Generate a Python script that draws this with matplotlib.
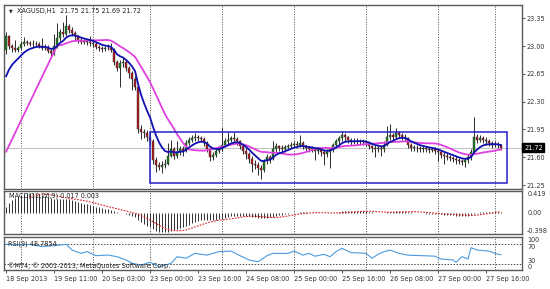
import numpy as np
import pandas as pd
import matplotlib
matplotlib.use("Agg")
import matplotlib.pyplot as plt
from matplotlib.patches import Rectangle

# XAGUSD H1, 18 Sep 2013 19:00 -> 27 Sep 2013 21:00 (166 bars)
closes = [
    23.12, 23.00, 22.97, 22.95, 22.97, 23.02, 23.05, 23.04, 23.03, 23.02, 23.03, 23.00,
    22.98, 22.99, 22.94, 22.91, 23.00, 23.10, 23.18, 23.15, 23.25, 23.20, 23.17, 23.12,
    23.08, 23.05, 23.06, 23.05, 23.04, 23.03, 22.99, 22.97, 22.96, 22.97, 22.98, 22.95,
    22.80, 22.72, 22.78, 22.80, 22.72, 22.66, 22.58, 22.48, 21.95, 21.92, 21.90, 21.86,
    21.80, 21.56, 21.50, 21.48, 21.50, 21.52, 21.62, 21.70, 21.62, 21.66, 21.70, 21.68,
    21.78, 21.82, 21.84, 21.85, 21.84, 21.83, 21.78, 21.70, 21.60, 21.63, 21.68, 21.70,
    21.76, 21.80, 21.82, 21.84, 21.83, 21.80, 21.74, 21.68, 21.64, 21.58, 21.52, 21.50,
    21.46, 21.44, 21.55, 21.60, 21.58, 21.70, 21.74, 21.72, 21.70, 21.73, 21.74, 21.76,
    21.77, 21.76, 21.78, 21.74, 21.72, 21.70, 21.71, 21.68, 21.70, 21.66, 21.64, 21.66,
    21.70, 21.75, 21.80, 21.84, 21.88, 21.85, 21.82, 21.80, 21.80, 21.81, 21.80, 21.80,
    21.78, 21.74, 21.72, 21.70, 21.72, 21.70, 21.76, 21.85, 21.88, 21.86, 21.90, 21.88,
    21.86, 21.84, 21.76, 21.72, 21.72, 21.71, 21.70, 21.71, 21.70, 21.69, 21.70, 21.68,
    21.66, 21.63, 21.62, 21.60, 21.59, 21.58, 21.56, 21.55, 21.54, 21.56, 21.60, 21.66,
    21.86, 21.82, 21.84, 21.82, 21.80, 21.78, 21.76, 21.77, 21.75, 21.72,
]
highs = [
    23.18, 23.14, 23.03, 23.08, 23.00, 23.06, 23.11, 23.08, 23.06, 23.07, 23.06, 23.05,
    23.10, 23.02, 23.01, 22.96, 23.15, 23.29, 23.22, 23.30, 23.39, 23.28, 23.24, 23.19,
    23.14, 23.10, 23.09, 23.08, 23.12, 23.07, 23.05, 23.01, 23.00, 23.00, 23.02, 23.04,
    22.97, 22.83, 22.82, 22.86, 22.83, 22.75, 22.69, 22.62, 22.52, 22.00, 21.96, 21.94,
    21.90, 21.83, 21.60, 21.54, 21.55, 21.58, 21.78, 21.82, 21.73, 21.80, 21.74, 21.74,
    21.82, 21.86, 21.88, 21.90, 21.88, 21.87, 21.85, 21.80, 21.72, 21.67, 21.71, 21.74,
    21.98, 21.84, 21.92, 21.87, 21.92, 21.85, 21.82, 21.76, 21.71, 21.67, 21.61, 21.56,
    21.54, 21.50, 21.58, 21.64, 21.63, 21.80, 21.78, 21.76, 21.75, 21.76, 21.77, 21.79,
    21.81, 21.80, 21.88, 21.80, 21.76, 21.74, 21.74, 21.73, 21.73, 21.72, 21.69, 21.70,
    21.73, 21.78, 21.83, 21.87, 21.93, 21.90, 21.87, 21.84, 21.84, 21.84, 21.83, 21.83,
    21.82, 21.80, 21.76, 21.75, 21.75, 21.74, 21.80, 21.99, 22.02, 21.91, 21.97, 21.93,
    21.91, 21.89, 21.86, 21.78, 21.76, 21.75, 21.74, 21.74, 21.74, 21.73, 21.73, 21.73,
    21.71, 21.69, 21.67, 21.65, 21.63, 21.62, 21.61, 21.59, 21.58, 21.59, 21.64, 21.70,
    22.11, 21.89, 21.88, 21.87, 21.85, 21.83, 21.81, 21.80, 21.79, 21.75,
]
lows = [
    22.90, 22.96, 22.93, 22.92, 22.92, 22.95, 23.00, 23.01, 23.00, 22.99, 22.99, 22.97,
    22.95, 22.95, 22.91, 22.87, 22.89, 22.98, 23.06, 23.11, 23.12, 23.16, 23.12, 23.08,
    23.04, 23.02, 23.02, 23.01, 23.00, 22.99, 22.96, 22.94, 22.93, 22.94, 22.95, 22.92,
    22.76, 22.68, 22.49, 22.74, 22.68, 22.60, 22.45, 22.44, 21.90, 21.83, 21.84, 21.81,
    21.75, 21.52, 21.42, 21.44, 21.40, 21.46, 21.50, 21.60, 21.58, 21.59, 21.63, 21.62,
    21.66, 21.75, 21.79, 21.81, 21.80, 21.79, 21.74, 21.66, 21.55, 21.57, 21.60, 21.65,
    21.68, 21.73, 21.77, 21.79, 21.79, 21.76, 21.70, 21.64, 21.58, 21.53, 21.42, 21.45,
    21.38, 21.33, 21.42, 21.52, 21.53, 21.56, 21.67, 21.68, 21.66, 21.67, 21.70, 21.71,
    21.73, 21.72, 21.73, 21.70, 21.68, 21.66, 21.66, 21.57, 21.64, 21.61, 21.50, 21.60,
    21.47, 21.67, 21.72, 21.77, 21.81, 21.81, 21.78, 21.76, 21.77, 21.77, 21.76, 21.76,
    21.74, 21.70, 21.67, 21.60, 21.66, 21.62, 21.67, 21.74, 21.82, 21.82, 21.83, 21.84,
    21.82, 21.80, 21.72, 21.68, 21.68, 21.67, 21.66, 21.67, 21.66, 21.65, 21.66, 21.64,
    21.55, 21.59, 21.52, 21.56, 21.55, 21.54, 21.52, 21.51, 21.50, 21.48, 21.53, 21.57,
    21.64, 21.78, 21.79, 21.78, 21.76, 21.74, 21.72, 21.73, 21.71, 21.69,
]
first_open = 22.95

# RSI(9) (bar index, value)
rsi_bars = [0, 5, 8, 12, 16, 20, 22, 25, 27, 30, 34, 37, 40, 42, 45, 48, 51, 55, 57, 60,
            63, 67, 71, 75, 78, 81, 84, 87, 89, 94, 96, 99, 101, 103, 106, 108, 110, 112,
            115, 120, 122, 124, 126, 128, 131, 134, 139, 143, 145, 149, 150, 152, 154,
            155, 157, 161, 163, 165]
rsi_vals = [69.4, 68.0, 69.0, 65.0, 66.7, 69.4, 58.0, 51.6, 55.0, 47.0, 48.3, 45.0, 38.5,
            32.0, 28.6, 34.0, 25.0, 32.0, 45.0, 42.0, 51.6, 48.0, 55.0, 56.0, 47.0, 38.5,
            35.0, 47.0, 51.6, 51.6, 56.0, 48.0, 51.6, 46.0, 49.7, 45.0, 55.0, 61.5, 53.0,
            51.6, 42.0, 49.7, 55.0, 58.0, 51.6, 48.0, 47.0, 46.0, 40.4, 38.5, 34.0, 45.0,
            40.4, 62.7, 58.0, 56.0, 51.6, 48.79]

# indicator settings / start values seen on the chart
ema_period = 8
ema_start = 22.62
sma_period = 18
sma_start = 21.67
macd_seed = 21.70

price_ticks = [21.25, 21.60, 21.95, 22.30, 22.65, 23.00, 23.35]
range_top = 21.92
range_bottom = 21.275
range_start = 48
range_end = 167
bid = 21.72

time_ticks = [0, 16, 32, 48, 64, 80, 96, 112, 128, 144, 160]
time_labels = ["18 Sep 2013", "19 Sep 11:00", "20 Sep 03:00", "23 Sep 00:00",
               "23 Sep 16:00", "24 Sep 08:00", "25 Sep 00:00", "25 Sep 16:00",
               "26 Sep 08:00", "27 Sep 00:00", "27 Sep 16:00"]
grid_bars = [5, 29, 48, 72, 96, 120, 144, 163]

n = len(closes)
x = np.arange(n)
c = np.array(closes)
o = np.array([first_open] + closes[:-1])

# blue EMA
ema = [ema_start]
k = 2 / (ema_period + 1)
for i in range(1, n):
    ema.append(ema[-1] + k * (c[i] - ema[-1]))

# magenta SMA
sma = pd.Series(c).rolling(sma_period).mean().values
sma_x = [0] + list(range(sma_period - 1, n))
sma_y = [sma_start] + list(sma[sma_period - 1:])

# MACD
def ema_seeded(vals, period, seed):
    out = []
    prev = seed
    kk = 2 / (period + 1)
    for v in vals:
        prev = prev + kk * (v - prev)
        out.append(prev)
    return np.array(out)

macd = ema_seeded(c, 12, macd_seed) - ema_seeded(c, 26, macd_seed)
signal = pd.Series(macd).rolling(9).mean().values

W, H = 550, 289
fig = plt.figure(figsize=(5.5, 2.89), dpi=100)
fig.patch.set_facecolor("white")

def box(l, t, r, b):
    return [l / W, 1 - b / H, (r - l) / W, (b - t) / H]

ax = fig.add_axes(box(4, 4.7, 522, 189))
ax2 = fig.add_axes(box(4, 190.5, 522, 234))
ax3 = fig.add_axes(box(4, 237, 522, 270))

fs = 4.7
txt = "#333333"
frame = "#5a5a5a"
for a_ in (ax, ax2, ax3):
    a_.set_xlim(-0.7, 172)
    for s in a_.spines.values():
        s.set_color(frame)
        s.set_linewidth(1.0)
    a_.yaxis.tick_right()
    a_.tick_params(axis="y", length=2, width=0.6, pad=1.5, labelsize=fs, colors=txt)
    a_.tick_params(axis="x", length=0, labelbottom=False)
    for g in grid_bars:
        a_.axvline(g, color="#4a4a4a", lw=0.7, ls=(0, (1, 1.6)), zorder=0)

# main chart
ax.set_ylim(21.20, 23.52)
ax.set_yticks(price_ticks)
ax.set_yticklabels([f"{p:.2f}" for p in price_ticks])
ax.axhline(bid, color="#c4c4c4", lw=0.8, zorder=0.5)

up = c >= o
body_lo = np.minimum(o, c)
body_h = np.maximum(np.abs(c - o), 0.006)
ax.vlines(x, lows, highs, color="#2c2c2c", lw=0.7, zorder=2)
ax.bar(x, body_h, bottom=body_lo, width=0.65,
       color=np.where(up, "#1d7a1d", "#b31a1a"), edgecolor="#2c2c2c",
       linewidth=0.3, zorder=3)

ax.plot(sma_x, sma_y, color="#e040e0", lw=1.3, zorder=4)
ax.plot(x, ema, color="#1010b0", lw=1.3, zorder=5)

ax.add_patch(Rectangle((range_start, range_bottom), range_end - range_start,
                       range_top - range_bottom, fill=False,
                       edgecolor="#2020c8", lw=1.1, zorder=6))

ax.text(1.004, bid, f"{bid:.2f}", transform=ax.get_yaxis_transform(),
        fontsize=fs, color="white", va="center", ha="left",
        bbox=dict(boxstyle="square,pad=0.25", fc="black", ec="black"))

# MACD
ax2.set_ylim(-0.398, 0.419)
ax2.set_yticks([])
ax2.vlines(x, 0, macd, color="#303030", lw=0.7, zorder=2)
ax2.plot(x, signal, color="#e02020", lw=0.8, ls=(0, (1.5, 1.2)), zorder=3)
for v, lab, va in [(0.419, "0.419", "top"), (0.0, "0.00", "center"), (-0.398, "-0.398", "bottom")]:
    ax2.text(1.01, v, lab, transform=ax2.get_yaxis_transform(), fontsize=fs,
             color=txt, va=va, ha="left")

# RSI
ax3.set_ylim(18.8, 83.8)
ax3.set_yticks([])
for lvl in (70, 30):
    ax3.axhline(lvl, color="#4a4a4a", lw=0.7, ls=(0, (1.5, 1.6)), zorder=1)
ax3.plot(rsi_bars, rsi_vals, color="#4a9be0", lw=0.8, zorder=3)
for v, lab, va in [(83.8, "100", "top"), (70, "70", "top"), (30, "30", "bottom"), (18.8, "0", "bottom")]:
    ax3.text(1.01, v, lab, transform=ax3.get_yaxis_transform(), fontsize=fs,
             color=txt, va=va, ha="left")

ax3.set_xticks(time_ticks)
ax3.set_xticklabels(time_labels)
ax3.tick_params(axis="x", length=2.5, width=0.6, direction="out", pad=2,
                labelbottom=True, labelsize=fs, colors=txt)
for t in ax3.get_xticklabels():
    t.set_horizontalalignment("left")

# labels inside the panels
fig.text(9 / W, 1 - 11 / H, "\u25bc", fontsize=3.5, va="center", ha="left", color="#222222")
fig.text(17 / W, 1 - 11 / H, "XAGUSD,H1  21.75 21.75 21.69 21.72", fontsize=fs,
         va="center", ha="left", color="#222222")
fig.text(9 / W, 1 - 196 / H, "MACD(12,26,9) 0.017 0.003", fontsize=fs,
         va="center", ha="left", color="#222222")
fig.text(8 / W, 1 - 243.5 / H, "RSI(9) 48.7854", fontsize=fs,
         va="center", ha="left", color="#222222")
fig.text(8 / W, 1 - 265.5 / H, "\u00a9MT4, \u00a9 2001-2013, MetaQuotes Software Corp.",
         fontsize=fs, va="center", ha="left", color="#222222")

fig.savefig("out.png", dpi=100)
